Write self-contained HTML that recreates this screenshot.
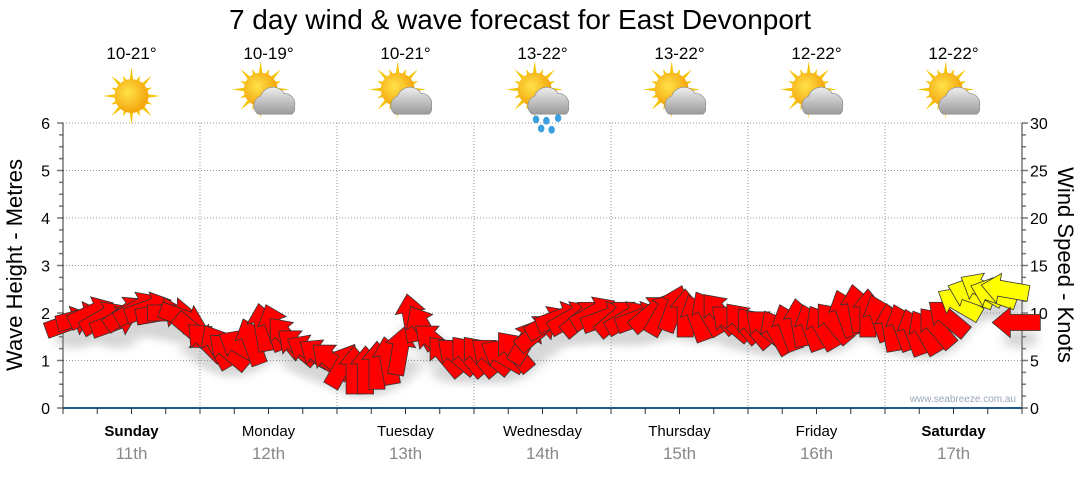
<!DOCTYPE html>
<html><head><meta charset="utf-8"><style>
body{margin:0;background:#fff;width:1080px;height:475px;overflow:hidden;font-family:"Liberation Sans",sans-serif}
</style></head><body>
<svg id="c" width="1080" height="475" xmlns="http://www.w3.org/2000/svg">
<defs>
<radialGradient id="sunG" cx="0.4" cy="0.4" r="0.7"><stop offset="0" stop-color="#ffe24a"/><stop offset="1" stop-color="#f29a00"/></radialGradient>
<linearGradient id="cloudG" x1="0" y1="0" x2="0" y2="1"><stop offset="0" stop-color="#eeeeee"/><stop offset="1" stop-color="#9a9a9a"/></linearGradient>
<filter id="sh" x="-50%" y="-50%" width="200%" height="200%"><feGaussianBlur stdDeviation="5"/></filter>
</defs>
<text x="520" y="29" text-anchor="middle" font-size="28" fill="#000">7 day wind &amp; wave forecast for East Devonport</text>
<g id="grid"></g><g id="axes"></g><g id="icons"></g><g id="shadows" opacity="0.35"></g><g id="arrows"></g>
<text transform="translate(22,265) rotate(-90)" text-anchor="middle" font-size="22">Wave Height - Metres</text>
<text transform="translate(1058,265) rotate(90)" text-anchor="middle" font-size="22">Wind Speed - Knots</text>
<text x="1016" y="402" text-anchor="end" font-size="10" fill="#9aa6b8">www.seabreeze.com.au</text>
</svg>
<script>
const days=["Sunday","Monday","Tuesday","Wednesday","Thursday","Friday","Saturday"];
const dates=["11th","12th","13th","14th","15th","16th","17th"];
const temps=["10-21°","10-19°","10-21°","13-22°","13-22°","12-22°","12-22°"];
const weather=["sun","partly","partly","rain","partly","partly","partly"];
const waveTicks=[0,1,2,3,4,5,6];
const windTicks=[0,5,10,15,20,25,30];
const windSpeed=[9,9.5,10,9.5,9,10,10.5,10.5,10,10,9.5,8,
7,6.5,6,6.5,7,8.5,8.5,7.5,6.5,6,5.5,5,
4.5,4,4,4.5,5,6,9.5,8.5,7,5.5,5.5,5.5,
5.5,5.5,5.5,6,7,8,9,9.5,9.5,9.5,10,9.5,
9.5,9.5,9.5,10,10,10.5,10,9.5,10,10,9,9,
8.5,8.5,8,8.5,9,8.5,8.5,9,10,10.5,10,9.5,
8.5,8.5,8,8,8.5,9.5,11,12,12.5,12,12.5,9];
const windDir=[-20,-15,-25,-30,-20,-35,-30,-20,-10,0,20,40,
-135,-120,-140,-150,-110,-100,-110,-130,-140,-150,-145,-140,
-60,-90,-90,-90,-100,-80,-100,-120,-140,-130,-140,-130,
-130,-140,-150,-130,-60,-40,-30,-20,-30,-40,-30,-20,
-40,-30,-20,-40,-60,-70,-90,-110,-120,-130,-140,-130,
-130,-140,-120,-110,-100,-110,-120,-130,-110,-100,-90,-110,
-100,-110,-110,-120,-130,-140,-150,-160,-150,-160,-170,180];
const X0=63,X1=1022,Y0=408,Y6=123;
const dayW=(X1-X0)/7;
const yWave=v=>Y0-(Y0-Y6)*v/6;
const yWind=v=>Y0-(Y0-Y6)*v/30;
const xIdx=i=>X0+dayW*(i+0.5)/12;
const NS="http://www.w3.org/2000/svg";
function mk(tag,attrs,parent){const e=document.createElementNS(NS,tag);for(const k in attrs)e.setAttribute(k,attrs[k]);parent.appendChild(e);return e;}
const grid=document.getElementById('grid'),axes=document.getElementById('axes'),icons=document.getElementById('icons'),arrows=document.getElementById('arrows'),shadows=document.getElementById('shadows');
waveTicks.forEach(v=>{if(v>0){const l=mk('line',{x1:X0,x2:X1,y1:yWave(v),y2:yWave(v),stroke:'#999','stroke-dasharray':'1,2'},grid);

}
const t=mk('text',{x:50,y:yWave(v)+6,'text-anchor':'end','font-size':16},axes);t.textContent=v;

});
windTicks.forEach(v=>{const t=mk('text',{x:1030,y:yWind(v)+6,'font-size':16},axes);t.textContent=v;

});
for(let k=0;k<=24;k++){const y=Y0-(Y0-Y6)*k/24;const big=k%4==0;
mk('line',{x1:X0-(big?6:4),x2:X0,y1:y,y2:y,stroke:'#777','stroke-width':1.5},axes);
mk('line',{x1:X1,x2:X1+(big?6:4),y1:y,y2:y,stroke:'#777','stroke-width':1.5},axes);}
mk('line',{x1:X0,x2:X0,y1:Y6,y2:Y0,stroke:'#333'},axes);
mk('line',{x1:X1,x2:X1,y1:Y6,y2:Y0,stroke:'#333'},axes);
mk('line',{x1:X0,x2:X1,y1:Y0,y2:Y0,stroke:'#1d5a8a','stroke-width':2},axes);
for(let k=0;k<=28;k++){const x=X0+dayW*k/4;mk('line',{x1:x,x2:x,y1:Y0,y2:Y0+6,stroke:'#333'},axes);}
days.forEach((d,i)=>{const cx=X0+dayW*(i+0.5);
if(i>0){const l=mk('line',{x1:X0+dayW*i,x2:X0+dayW*i,y1:Y6,y2:Y0,stroke:'#999','stroke-dasharray':'1,2'},grid);

}
const bold=(i==0||i==6);
const t=mk('text',{x:cx,y:436,'text-anchor':'middle','font-size':15,'font-weight':bold?'bold':'normal'},axes);t.textContent=d;


const t2=mk('text',{x:cx,y:459,'text-anchor':'middle','font-size':17,fill:'#888'},axes);t2.textContent=dates[i];


const t3=mk('text',{x:cx,y:59,'text-anchor':'middle','font-size':17},icons);t3.textContent=temps[i];


const g=mk('g',{transform:`translate(${cx},96) scale(1.3)`},icons);


const sx=weather[i]=='sun'?0:-6, sy=weather[i]=='sun'?0:-5;
for(let a=0;a<16;a++){const an=a*Math.PI/8,L=(a%2?17:22);
mk('polygon',{points:`${sx+Math.cos(an-0.12)*12},${sy+Math.sin(an-0.12)*12} ${sx+Math.cos(an)*L},${sy+Math.sin(an)*L} ${sx+Math.cos(an+0.12)*12},${sy+Math.sin(an+0.12)*12}`,fill:'#f5c400'},g);}
mk('circle',{cx:sx,cy:sy,r:13,fill:'url(#sunG)'},g);
if(weather[i]!='sun'){mk('path',{d:'M-8,14 a8,8 0 0,1 2,-14 a10,10 0 0,1 18,-2 a8,8 0 0,1 8,10 a6,6 0 0,1 -2,6 z',fill:'url(#cloudG)',stroke:'#888','stroke-width':0.5},g);}
if(weather[i]=='rain'){[[-5,18],[3,19],[12,17],[-1,25],[7,26]].forEach(p=>mk('ellipse',{cx:p[0],cy:p[1],rx:2.5,ry:3,fill:'#3aa0e0'},g));}
});
function arrowPts(){return "-24,-8 6,-8 6,-15 24,0 6,15 6,8 -24,8";}
windSpeed.forEach((v,i)=>{const x=xIdx(i),y=yWind(v);
mk('ellipse',{cx:x+4,cy:y+16,rx:18,ry:9,fill:'#888',filter:'url(#sh)'},shadows);
const p=mk('polygon',{points:arrowPts(),transform:`translate(${x},${y}) rotate(${windDir[i]})`,fill:v>=11?'#ffff00':'#ff0000',stroke:'#333','stroke-width':0.8},arrows);

});
</script>
</body></html>
